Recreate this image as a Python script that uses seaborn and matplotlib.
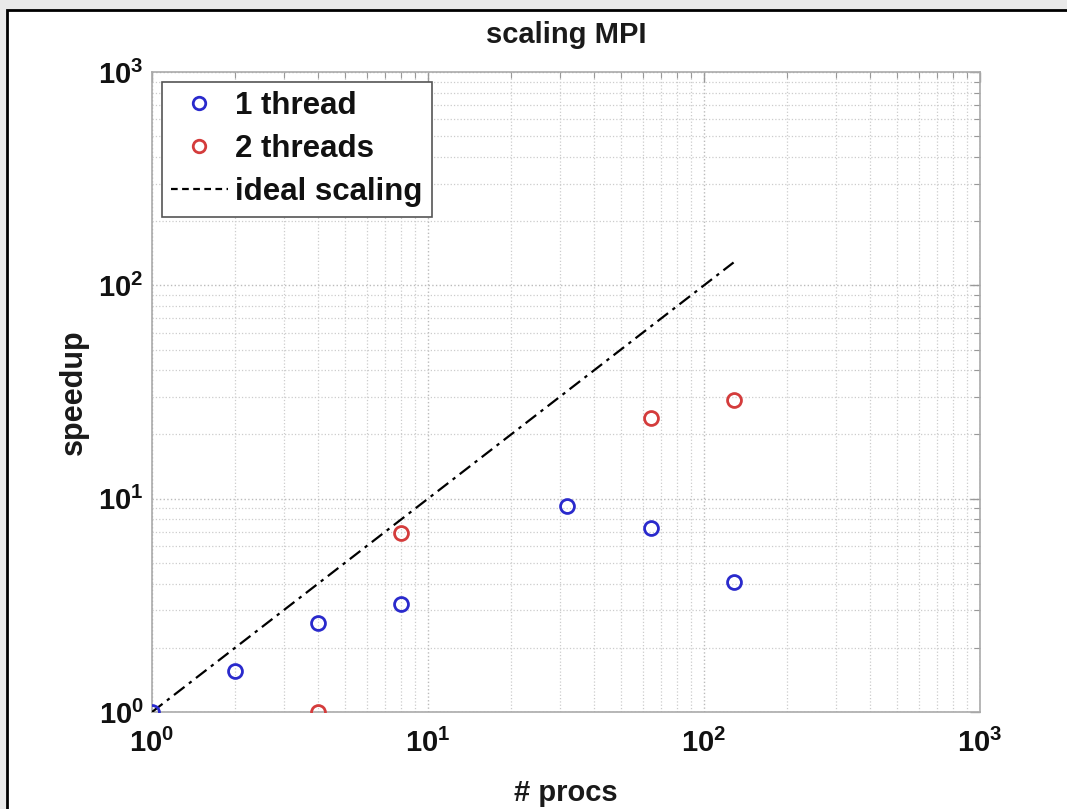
import numpy as np
import pandas as pd
import matplotlib
matplotlib.use("Agg")
import matplotlib.pyplot as plt
import matplotlib.ticker as mticker
from matplotlib.patches import Rectangle
from matplotlib.lines import Line2D
import seaborn as sns

# ---- data ----
procs_1thread = [1, 2, 4, 8, 32, 64, 128]
speedup_1thread = [1.0, 1.55, 2.62, 3.22, 9.25, 7.25, 4.05]
procs_2threads = [4, 8, 64, 128]
speedup_2threads = [1.0, 6.9, 23.8, 28.9]
procs_ideal = [1, 128]
speedup_ideal = [1, 128]
labels = ["1 thread", "2 threads", "ideal scaling"]

sns.set_theme(style="white")
plt.rcParams['font.family'] = ['Liberation Sans', 'DejaVu Sans']
plt.rcParams['mathtext.fontset'] = 'custom'
plt.rcParams['mathtext.bf'] = 'Liberation Sans:bold'
plt.rcParams['mathtext.rm'] = 'Liberation Sans'

fig = plt.figure(figsize=(10.67, 8.09), dpi=100)
fig.patch.set_facecolor('#e9e9e9')
fig.patches.append(Rectangle((7/1067, -0.05), 1.1, 0.05 + 1 - 10/809,
                             transform=fig.transFigure, facecolor='white',
                             edgecolor='black', linewidth=2, zorder=-10))
ax = fig.add_axes([152/1067, 1 - 712/809, (980 - 152)/1067, (712 - 72)/809])
ax.set_facecolor('white')

df1 = pd.DataFrame({"procs": procs_1thread, "speedup": speedup_1thread})
df2 = pd.DataFrame({"procs": procs_2threads, "speedup": speedup_2threads})
dfi = pd.DataFrame({"procs": procs_ideal, "speedup": speedup_ideal})

blue = '#2a2acc'
red = '#d43c3c'
sns.lineplot(data=dfi, x="procs", y="speedup", ax=ax, color='black',
             linestyle=(0, (6, 2.5, 1.5, 2.5)), linewidth=1.6, zorder=3)
sns.lineplot(data=df1, x="procs", y="speedup", ax=ax, color=blue, linestyle='',
             marker='o', markersize=10, markerfacecolor='none',
             markeredgecolor=blue, markeredgewidth=2, zorder=4)
sns.lineplot(data=df2, x="procs", y="speedup", ax=ax, color=red, linestyle='',
             marker='o', markersize=10, markerfacecolor='none',
             markeredgecolor=red, markeredgewidth=2, zorder=4)

ax.set_xscale('log')
ax.set_yscale('log')
ax.set_xlim(1, 1000)
ax.set_ylim(1, 1000)

fmt = mticker.FuncFormatter(lambda v, p: r'$\mathbf{10^{%d}}$' % int(round(np.log10(v))))
ax.xaxis.set_major_formatter(fmt)
ax.yaxis.set_major_formatter(fmt)
ax.xaxis.set_major_locator(mticker.LogLocator(base=10, numticks=10))
ax.yaxis.set_major_locator(mticker.LogLocator(base=10, numticks=10))
ax.xaxis.set_minor_locator(mticker.LogLocator(base=10, subs=np.arange(2, 10), numticks=20))
ax.yaxis.set_minor_locator(mticker.LogLocator(base=10, subs=np.arange(2, 10), numticks=20))
ax.xaxis.set_minor_formatter(mticker.NullFormatter())
ax.yaxis.set_minor_formatter(mticker.NullFormatter())

ax.tick_params(axis='both', which='both', direction='in', top=True, right=True,
               color='#999999', labelsize=21, labelcolor='#111111')
ax.tick_params(axis='x', which='major', length=7, width=1, pad=12)
ax.tick_params(axis='y', which='major', length=7, width=1, pad=6)
ax.tick_params(axis='both', which='minor', length=4, width=0.8)
for s in ax.spines.values():
    s.set_color('#aaaaaa')
    s.set_linewidth(1.2)

ax.grid(True, which='major', linestyle=':', color='#bbbbbb', linewidth=1)
ax.grid(True, which='minor', linestyle=':', color='#cccccc', linewidth=0.9)

ax.set_title("scaling MPI", fontsize=21, fontweight='bold', pad=21, color='#1a1a1a')
ax.set_xlabel("# procs", fontsize=21, fontweight='bold', color='#1a1a1a', labelpad=15)
ax.set_ylabel("speedup", fontsize=22, fontweight='bold', color='#1a1a1a', labelpad=7)

handles = [
    Line2D([], [], linestyle='', marker='o', markersize=9, markerfacecolor='none',
           markeredgecolor=blue, markeredgewidth=2),
    Line2D([], [], linestyle='', marker='o', markersize=9, markerfacecolor='none',
           markeredgecolor=red, markeredgewidth=2),
    Line2D([], [], color='black', linestyle=(0, (3, 2)), linewidth=1.6),
]
leg = ax.legend(handles, labels, loc='upper left', bbox_to_anchor=(0.012, 0.985),
                fontsize=22.5, frameon=True, fancybox=False, edgecolor='#555555',
                framealpha=1, handlelength=1.8, handletextpad=0.25,
                borderpad=0.3, labelspacing=0.42, borderaxespad=0)
leg.get_frame().set_linewidth(1.2)
for t in leg.get_texts():
    t.set_fontweight('bold')
    t.set_color('#111111')

fig.savefig("out.png", dpi=100, facecolor=fig.get_facecolor())
